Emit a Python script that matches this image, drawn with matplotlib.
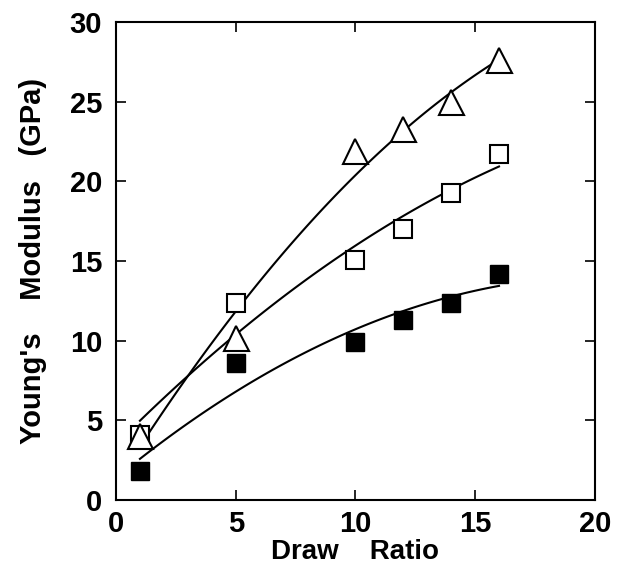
import numpy as np
import matplotlib.pyplot as plt

plt.rcParams['font.family'] = ['Liberation Sans', 'DejaVu Sans']
plt.rcParams['font.weight'] = 'bold'

draw_ratio = np.array([1, 5, 10, 12, 14, 16])
modulus_tri = np.array([4.0, 10.2, 21.9, 23.3, 25.0, 27.6])
modulus_open = np.array([4.1, 12.4, 15.1, 17.0, 19.3, 21.7])
modulus_filled = np.array([1.8, 8.6, 9.9, 11.3, 12.4, 14.2])

xticks = [0, 5, 10, 15, 20]
yticks = [0, 5, 10, 15, 20, 25, 30]

fig = plt.figure(figsize=(6.17, 5.67), dpi=100)
ax = fig.add_axes([0.188, 0.118, 0.776, 0.843])

# quadratic fits through each set
xfit = np.linspace(1.0, 16, 100)
for y in (modulus_tri, modulus_open, modulus_filled):
    c = np.polyfit(draw_ratio, y, 2)
    ax.plot(xfit, np.polyval(c, xfit), c='k', lw=1.5, zorder=2)

ax.plot(draw_ratio, modulus_open, ls='none', marker='s', ms=13, mfc='white',
        mec='k', mew=1.5, zorder=3)
ax.plot(draw_ratio, modulus_tri, ls='none', marker='^', ms=18, mfc='white',
        mec='k', mew=1.5, zorder=4)
ax.plot(draw_ratio, modulus_filled, ls='none', marker='s', ms=13, mfc='k',
        mec='k', zorder=3)

ax.set_xlim(0, 20)
ax.set_ylim(0, 30)
ax.set_xticks(xticks)
ax.set_yticks(yticks)
ax.tick_params(direction='in', length=7, width=1.2, labelsize=21,
               top=True, right=True)
ax.tick_params(axis='x', pad=7)
ax.tick_params(axis='y', pad=10)
for s in ax.spines.values():
    s.set_linewidth(1.5)

ax.set_xlabel('Draw    Ratio', fontsize=20, fontweight='bold', labelpad=1)
ax.set_ylabel("Young's    Modulus   (GPa)", fontsize=21, fontweight='bold',
              labelpad=16)

fig.savefig('out.png')
